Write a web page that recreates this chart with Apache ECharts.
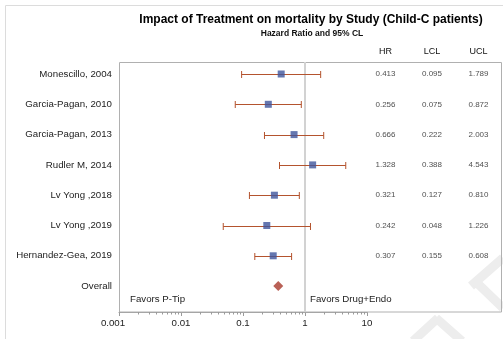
<!DOCTYPE html>
<html>
<head>
<meta charset="utf-8">
<script src="https://cdn.jsdelivr.net/npm/echarts@6/dist/echarts.min.js"></script>
<style>
html,body{margin:0;padding:0;background:#fff;}
#chart{width:503px;height:339px;}
</style>
</head>
<body>
<div id="chart"></div>
<script>
const studies = ['Monescillo, 2004','Garcia-Pagan, 2010','Garcia-Pagan, 2013','Rudler M, 2014','Lv Yong ,2018','Lv Yong ,2019','Hernandez-Gea, 2019','Overall'];
const hr  = [0.413, 0.256, 0.666, 1.328, 0.321, 0.242, 0.307];
const lcl = [0.095, 0.075, 0.222, 0.388, 0.127, 0.048, 0.155];
const ucl = [1.789, 0.872, 2.003, 4.543, 0.810, 1.226, 0.608];
const overallHR = 0.37;
const columns = ['HR', 'LCL', 'UCL'];
const xMin = 0.001, xMax = 10;
const decades = [0.001, 0.01, 0.1, 1];
const minorSteps = [2, 3, 4, 5, 6, 7, 8, 9];
const titleText = 'Impact of Treatment on mortality by Study (Child-C patients)';
const subtitleText = 'Hazard Ratio and 95% CL';
const leftNote = 'Favors P-Tip';
const rightNote = 'Favors Drug+Endo';

const FONT = '"Liberation Sans", Arial, sans-serif';
const minorTicks = [];
decades.forEach(d => minorSteps.forEach(m => minorTicks.push([d * m, 0])));

const barData = hr.map((v, i) => [lcl[i], ucl[i], i]);
const pointData = hr.map((v, i) => [v, i]);
const tableData = [];
hr.forEach((v, i) => {
  tableData.push([0, i, hr[i]]);
  tableData.push([1, i, lcl[i]]);
  tableData.push([2, i, ucl[i]]);
});

const chart = echarts.init(document.getElementById('chart'), null, {renderer: 'canvas'});
const rowTop = 58.85, rowH = 242.4;
const option = {
  animation: false,
  textStyle: {fontFamily: FONT},
  grid: [
    {left: 119, top: 62, width: 248, height: 250},
    {left: 119, top: rowTop, width: 248, height: rowH},
    {left: 385.5, top: rowTop, width: 93, height: rowH}
  ],
  xAxis: [
    {
      gridIndex: 0, type: 'log', logBase: 10, min: xMin, max: xMax,
      axisLine: {show: true, lineStyle: {color: '#9a9a9a', width: 1}},
      axisTick: {show: true, length: 4, lineStyle: {color: '#9a9a9a'}},
      minorTick: {show: false},
      splitLine: {show: false},
      axisLabel: {fontSize: 9.7, color: '#222', margin: 6, fontFamily: FONT,
        rich: {first: {fontSize: 9.7, color: '#222', fontFamily: FONT, padding: [0, 12, 0, 0]}},
        formatter: v => {
          const s = String(parseFloat(Number(v).toPrecision(3)));
          return Math.abs(v - xMin) < 1e-9 ? '{first|' + s + '}' : s;
        }}
    },
    {gridIndex: 1, type: 'log', logBase: 10, min: xMin, max: xMax, show: false},
    {
      gridIndex: 2, type: 'category', data: columns, position: 'top', boundaryGap: false,
      axisLine: {show: false}, axisTick: {show: false}, splitLine: {show: false},
      axisLabel: {fontSize: 9, color: '#111', margin: 2.5, fontFamily: FONT}
    }
  ],
  yAxis: [
    {gridIndex: 0, type: 'value', min: 0, max: 1, show: false},
    {
      gridIndex: 1, type: 'category', data: studies, inverse: true,
      axisLine: {show: false}, axisTick: {show: false}, splitLine: {show: false},
      axisLabel: {fontSize: 9.7, color: '#222', margin: 7, fontFamily: FONT}
    },
    {gridIndex: 2, type: 'category', data: studies, inverse: true, show: false}
  ],
  graphic: [
    {type: 'rect', z: -10, silent: true, shape: {x: 5.5, y: 5.5, width: 520, height: 360},
      style: {fill: null, stroke: '#dcdcdc', lineWidth: 1}},
    {type: 'line', z: -5, silent: true, shape: {x1: 503, y1: 258, x2: 471, y2: 286}, style: {stroke: '#ededed', lineWidth: 9}},
    {type: 'line', z: -5, silent: true, shape: {x1: 474, y1: 280, x2: 503, y2: 308}, style: {stroke: '#ededed', lineWidth: 9}},
    {type: 'line', z: -5, silent: true, shape: {x1: 413, y1: 341, x2: 438, y2: 318}, style: {stroke: '#ededed', lineWidth: 9}},
    {type: 'line', z: -5, silent: true, shape: {x1: 436, y1: 318, x2: 462, y2: 341}, style: {stroke: '#ededed', lineWidth: 9}},
    {type: 'rect', z: 1, silent: true, shape: {x: 119.5, y: 62.5, width: 382, height: 249.5},
      style: {fill: null, stroke: '#b0b0b0', lineWidth: 1}},
    {type: 'text', z: 10, style: {text: titleText, x: 311, y: 20, textAlign: 'center', textVerticalAlign: 'middle',
      font: 'bold 12px ' + FONT, fill: '#000'}},
    {type: 'text', z: 10, style: {text: subtitleText, x: 312, y: 33.5, textAlign: 'center', textVerticalAlign: 'middle',
      font: 'bold 8.5px ' + FONT, fill: '#111'}},
    {type: 'text', z: 10, style: {text: leftNote, x: 130, y: 299.5, textAlign: 'left', textVerticalAlign: 'middle',
      font: '9.7px ' + FONT, fill: '#222'}},
    {type: 'text', z: 10, style: {text: rightNote, x: 310, y: 299.5, textAlign: 'left', textVerticalAlign: 'middle',
      font: '9.7px ' + FONT, fill: '#222'}}
  ],
  series: [
    {
      type: 'line', xAxisIndex: 0, yAxisIndex: 0, data: [[1, 0], [1, 1]], symbol: 'none', z: 2,
      lineStyle: {color: '#d2d2d2', width: 2}, silent: true
    },
    {
      type: 'custom', xAxisIndex: 0, yAxisIndex: 0, data: minorTicks, z: 2, silent: true,
      renderItem: (params, api) => {
        const p = api.coord([api.value(0), 0]);
        const x = Math.round(p[0]) + 0.5;
        return {type: 'line', shape: {x1: x, y1: p[1], x2: x, y2: p[1] + 2.5},
          style: {stroke: '#9a9a9a', lineWidth: 1}};
      }
    },
    {
      type: 'custom', xAxisIndex: 1, yAxisIndex: 1, data: barData, z: 3, silent: true,
      encode: {x: [0, 1], y: 2},
      renderItem: (params, api) => {
        const a = api.coord([api.value(0), api.value(2)]);
        const b = api.coord([api.value(1), api.value(2)]);
        const y = Math.round(a[1]) + 0.5;
        const st = {stroke: '#b4532e', lineWidth: 1};
        return {type: 'group', children: [
          {type: 'line', shape: {x1: a[0], y1: y, x2: b[0], y2: y}, style: st},
          {type: 'line', shape: {x1: a[0], y1: y - 3.5, x2: a[0], y2: y + 3.5}, style: st},
          {type: 'line', shape: {x1: b[0], y1: y - 3.5, x2: b[0], y2: y + 3.5}, style: st}
        ]};
      }
    },
    {
      type: 'scatter', xAxisIndex: 1, yAxisIndex: 1, data: pointData, z: 4,
      symbol: 'rect', symbolSize: 7, itemStyle: {color: '#3f559c'}
    },
    {
      type: 'scatter', xAxisIndex: 1, yAxisIndex: 1, data: [[overallHR, 7]], z: 4,
      symbol: 'diamond', symbolSize: 10, itemStyle: {color: '#a83a2c'}
    },
    {
      type: 'scatter', xAxisIndex: 2, yAxisIndex: 2, data: tableData, symbolSize: 0, z: 4,
      label: {show: true, position: 'inside', fontSize: 8, color: '#222', fontFamily: FONT,
        formatter: p => p.value[2].toFixed(3)}
    }
  ]
};
chart.setOption(option);
</script>
</body>
</html>
